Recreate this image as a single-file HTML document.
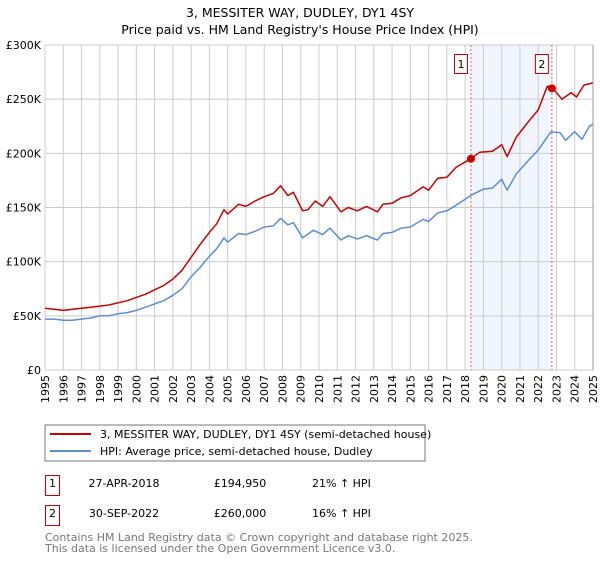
<!DOCTYPE html>
<html><head><meta charset="utf-8"><style>
body{margin:0;background:#fff;width:600px;height:560px;overflow:hidden;font-family:"DejaVu Sans","Liberation Sans",sans-serif}
svg text{font-family:"DejaVu Sans","Liberation Sans",sans-serif}
</style></head><body>
<svg id="c" width="600" height="560">
<text x="300" y="17" text-anchor="middle" font-size="12.5">3, MESSITER WAY, DUDLEY, DY1 4SY</text>
<text x="300" y="34" text-anchor="middle" font-size="12.5">Price paid vs. HM Land Registry's House Price Index (HPI)</text>
<g id="plot"></g>
<rect x="45" y="425" width="380" height="36" fill="#fff" stroke="#777"/>
<line x1="50" y1="434" x2="91" y2="434" stroke="#cc0000" stroke-width="2"/>
<text x="100" y="438" font-size="11">3, MESSITER WAY, DUDLEY, DY1 4SY (semi-detached house)</text>
<line x1="50" y1="451" x2="91" y2="451" stroke="#5b8fd4" stroke-width="2"/>
<text x="100" y="455" font-size="11">HPI: Average price, semi-detached house, Dudley</text>
<rect x="45.5" y="475.5" width="14" height="20" fill="none" stroke="#cc0000"/>
<text x="52.5" y="487" text-anchor="middle" font-size="11">1</text>
<text x="124" y="487" text-anchor="middle" font-size="11">27-APR-2018</text>
<text x="240" y="487" text-anchor="middle" font-size="11">£194,950</text>
<text x="312" y="487" font-size="11">21% ↑ HPI</text>
<rect x="45.5" y="505.5" width="14" height="20" fill="none" stroke="#cc0000"/>
<text x="52.5" y="517" text-anchor="middle" font-size="11">2</text>
<text x="124" y="517" text-anchor="middle" font-size="11">30-SEP-2022</text>
<text x="240" y="517" text-anchor="middle" font-size="11">£260,000</text>
<text x="312" y="517" font-size="11">16% ↑ HPI</text>
<text x="45" y="541" font-size="11" fill="#777">Contains HM Land Registry data © Crown copyright and database right 2025.</text>
<text x="45" y="552" font-size="11" fill="#777">This data is licensed under the Open Government Licence v3.0.</text>
</svg>
<script>
const propYears=[1995,1995.5,1996,1996.5,1997,1997.5,1998,1998.5,1999,1999.5,2000,2000.5,2001,2001.5,2002,2002.5,2003,2003.5,2004,2004.4,2004.8,2005,2005.6,2006,2006.5,2007,2007.5,2007.9,2008.3,2008.6,2009.1,2009.4,2009.8,2010.2,2010.6,2011.2,2011.6,2012.1,2012.6,2013.2,2013.5,2014,2014.5,2015,2015.7,2016,2016.5,2017,2017.5,2018.3,2018.8,2019.5,2020,2020.3,2020.8,2021.5,2022,2022.5,2022.8,2023.3,2023.8,2024.1,2024.5,2025];
const propValues=[57,56,55,56,57,58,59,60,62,64,67,70,74,78,84,92,104,116,127,135,148,144,153,151,156,160,163,170,161,164,147,148,156,151,160,146,150,147,151,146,153,154,159,161,169,166,177,178,187,195,201,202,208,197,215,230,240,262,260,250,256,252,263,265];
const hpiYears=[1995,1995.5,1996,1996.5,1997,1997.5,1998,1998.5,1999,1999.5,2000,2000.5,2001,2001.5,2002,2002.5,2003,2003.5,2004,2004.4,2004.8,2005,2005.6,2006,2006.5,2007,2007.5,2007.9,2008.3,2008.6,2009.1,2009.7,2010.2,2010.6,2011.2,2011.6,2012.1,2012.6,2013.2,2013.5,2014,2014.5,2015,2015.7,2016,2016.5,2017,2017.5,2018.3,2019,2019.5,2020,2020.3,2020.8,2021.5,2022,2022.7,2023.2,2023.5,2024,2024.4,2024.8,2025];
const hpiValues=[47,47,46,46,47,48,50,50,52,53,55,58,61,64,69,75,86,95,105,112,122,118,126,125,128,132,133,140,134,136,122,129,125,131,120,124,121,124,120,126,127,131,132,139,137,145,147,152,161,167,168,176,166,181,194,203,220,219,212,220,213,225,227];
const yTicks=[0,50,100,150,200,250,300];
const yTickLabels=["£0","£50K","£100K","£150K","£200K","£250K","£300K"];
const xTickYears=[1995,1996,1997,1998,1999,2000,2001,2002,2003,2004,2005,2006,2007,2008,2009,2010,2011,2012,2013,2014,2015,2016,2017,2018,2019,2020,2021,2022,2023,2024,2025];
const saleYears=[2018.32,2022.75];
const saleValues=[194.95,260];
const saleLabels=["1","2"];

const NS="http://www.w3.org/2000/svg";
const g=document.getElementById('plot');
const X0=45,X1=593,Y0=370,Y1=45;
const x=v=>X0+(v-1995)/30*(X1-X0);
const y=v=>Y0-v/300*(Y0-Y1);
function mk(t,a){const e=document.createElementNS(NS,t);for(const k in a)e.setAttribute(k,a[k]);g.appendChild(e);return e;}
const band=mk('rect',{x:x(saleYears[0]),y:Y1,width:x(saleYears[1])-x(saleYears[0]),height:Y0-Y1,fill:'#eef3fc',opacity:0.8});


xTickYears.forEach(yr=>{
  const l=mk('line',{x1:x(yr),x2:x(yr),y1:Y1,y2:Y0,stroke:'#cccccc'});
  
  
  const t=mk('text',{x:0,y:0,'font-size':11,'text-anchor':'end',transform:`translate(${x(yr)+4},${Y0+5}) rotate(-90)`});
  t.textContent=yr;
  
  
});
yTicks.forEach((v,i)=>{
  const l=mk('line',{x1:X0,x2:X1,y1:y(v),y2:y(v),stroke:'#cccccc'});
  
  
  const t=mk('text',{x:X0-4,y:y(v)+4,'font-size':11,'text-anchor':'end'});
  t.textContent=yTickLabels[i];
  
  
});
saleYears.forEach((s,i)=>{
  const l=mk('line',{x1:x(s),x2:x(s),y1:Y1,y2:Y0,stroke:'#e06060','stroke-dasharray':'2,2'});
  
  
});
function path(xs,vs,col,name){
  const d=xs.map((a,i)=>(i?'L':'M')+x(a).toFixed(1)+','+y(vs[i]).toFixed(1)).join('');
  const p=mk('path',{d:d,fill:'none',stroke:col,'stroke-width':1.5,'stroke-linejoin':'round'});
  
  
}
path(hpiYears,hpiValues,'#5b8fd4','hpi-line');
path(propYears,propValues,'#cc0000','property-line');
saleYears.forEach((s,i)=>{
  const c=mk('circle',{cx:x(s),cy:y(saleValues[i]),r:4,fill:'#cc0000'});
  
  
  const bx=x(s)-17;
  const r=mk('rect',{x:bx+0.5,y:54.5,width:13,height:19,fill:'#fff',stroke:'#cc0000'});
  
  
  const t=mk('text',{x:bx+7,y:68,'font-size':11,'text-anchor':'middle'});
  t.textContent=saleLabels[i];
  
  
});
const ax=mk('line',{x1:X1,x2:X1,y1:Y1,y2:Y0,stroke:'#999'});


</script>
</body></html>
